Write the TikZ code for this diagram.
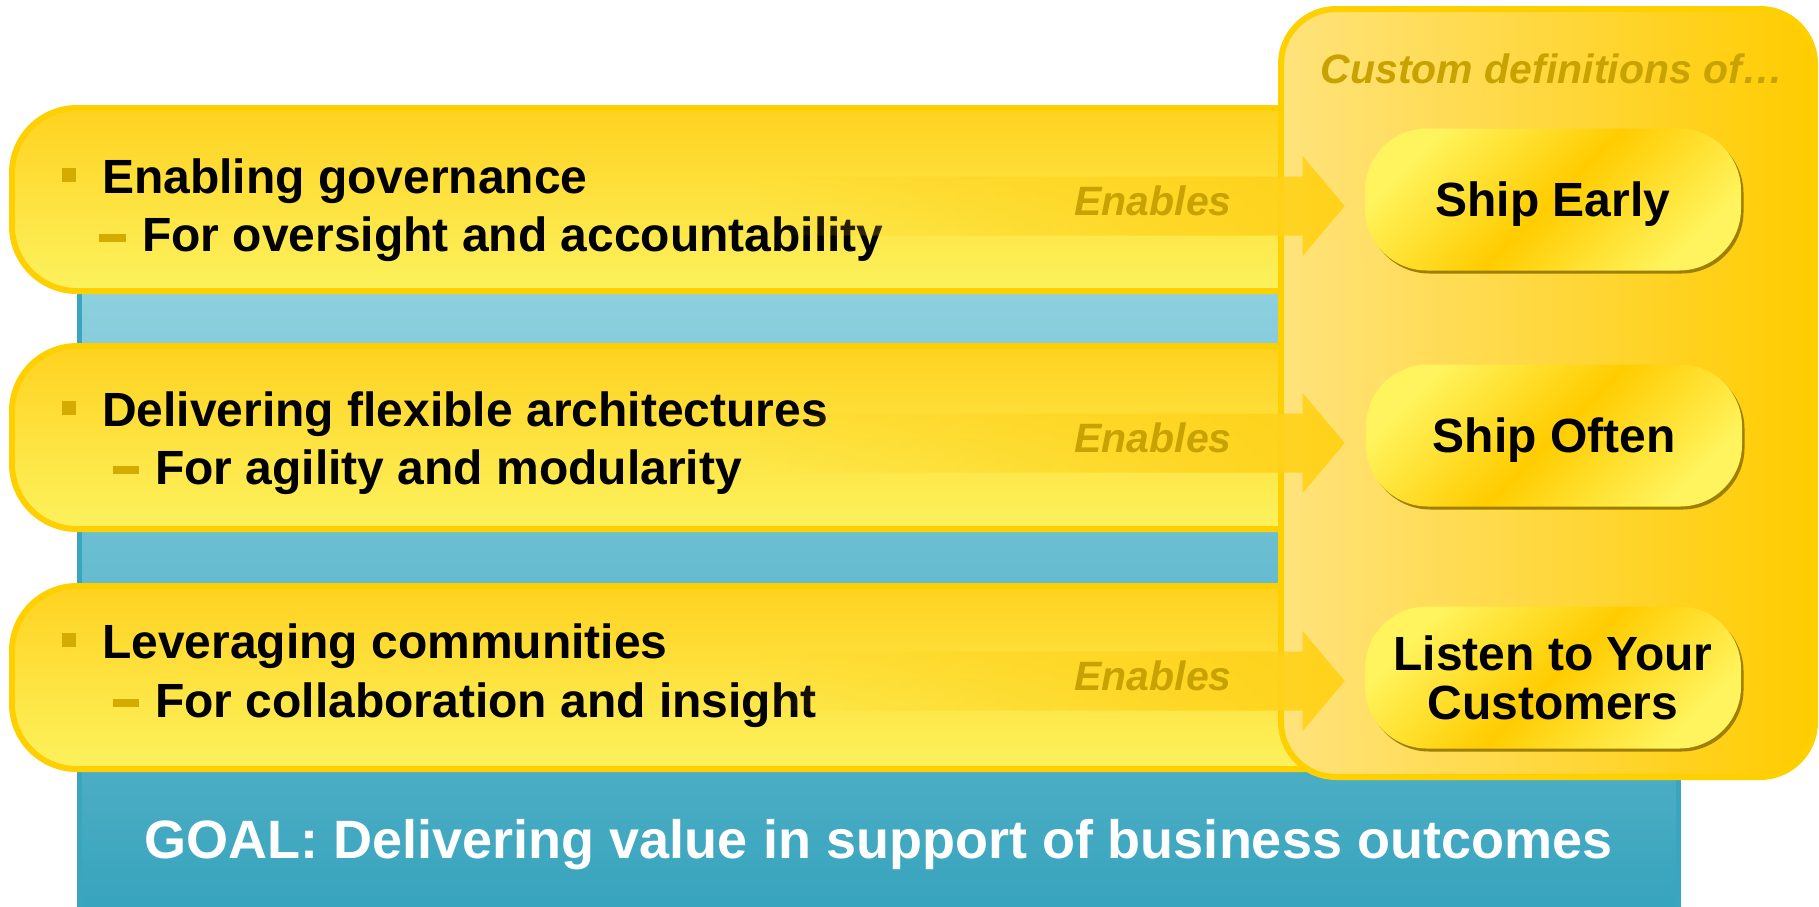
\documentclass[tikz,border=0pt]{standalone}
\usepackage{fontspec}
\setmainfont{Liberation Sans}
\usetikzlibrary{fadings,shadows}

\definecolor{barEdge}{HTML}{FFD000}
\definecolor{barTop}{HTML}{FFD220}
\definecolor{barBot}{HTML}{FCF25E}
\definecolor{tealTop}{HTML}{9AD7E4}
\definecolor{tealBot}{HTML}{37A3BD}
\definecolor{tealEdge}{HTML}{3AA5BF}
\definecolor{panelL}{HTML}{FFE37C}
\definecolor{panelM}{HTML}{FFDC62}
\definecolor{panelR}{HTML}{FFCC00}
\definecolor{boxLight}{HTML}{FFF45E}
\definecolor{boxGold}{HTML}{FFCC00}
\definecolor{boxShadow}{HTML}{9E7F00}
\definecolor{markGold}{HTML}{D4AB00}
\definecolor{enablesText}{HTML}{C8A200}
\definecolor{enablesBand}{HTML}{FFD21A}

\tikzfading[name=enablesfade, left color=transparent!100, middle color=transparent!0, right color=transparent!0]

\begin{document}
\begin{tikzpicture}[x=1pt,y=-1pt,
    bar/.style={draw=barEdge, line width=6pt, rounded corners=65pt, top color=barTop, bottom color=barBot},
    topic/.style={anchor=base west, inner sep=0pt, font=\fontsize{48}{58}\selectfont\bfseries},
    enables/.style={anchor=base, inner sep=0pt, text=enablesText, font=\fontsize{41}{49}\selectfont\bfseries\itshape},
    outcome/.style={rectangle, rounded corners=62pt, minimum width=376pt, minimum height=142pt, inner sep=0pt,
        top color=boxLight, bottom color=boxLight, middle color=boxGold, shading angle=45,
        general shadow={fill=boxShadow, shadow xshift=2.5pt, shadow yshift=-3pt},
        text depth=0pt, align=center, font=\fontsize{48}{49}\selectfont\bfseries}]
\useasboundingbox (0,0) rectangle (1819,906);

\draw[draw=tealEdge, line width=5pt, top color=tealTop, bottom color=tealBot] (79,200) rectangle (1678,915);

\foreach \t/\b in {108/291,346/529,586/769}
    \draw[bar] (12,\t) rectangle (1400,\b);

\foreach \y in {168,401,633}
    \fill[markGold] (62,\y) rectangle (76,\y+14);
\fill[markGold] (99,234) rectangle (126,242);
\fill[markGold] (113,466) rectangle (139,474);
\fill[markGold] (113,699) rectangle (139,707);

\node[topic] (gov) at (102,193) {Enabling governance};
\node[topic] (govsub) at (142,251) {For oversight and accountability};
\node[topic] (arch) at (102,426) {Delivering flexible architectures};
\node[topic] (archsub) at (155,484) {For agility and modularity};
\node[topic] (comm) at (102,658) {Leveraging communities};
\node[topic] (commsub) at (155,717) {For collaboration and insight};

\draw[draw=barEdge, line width=6pt, rounded corners=55pt, left color=panelL, middle color=panelM, right color=panelR] (1281,9) rectangle (1815,777);
\node[enables] (custom) at (1552,83) {Custom definitions of…};

\foreach \y [count=\i] in {206,443,681}
{
    \coordinate (s\i) at (760,\y);
    \coordinate (t\i) at (1345,\y);
    \fill[enablesBand, path fading=enablesfade, fit fading=true] (s\i) ++(0,-29.5) -- ++(543,0) -- ++(0,-20.5) -- (t\i) -- ++(-42,50) -- ++(0,-20.5) -- ++(-543,0) -- cycle;
    \node[enables] (en\i) at (1153,\y+9) {Enables};
}

\node[outcome] (early) at (1553,199.5) {Ship Early};
\node[outcome] (often) at (1554,435.5) {Ship Often};
\node[outcome] (listen) at (1553,677.5) {Listen to Your\\Customers};

\node[anchor=base, inner sep=0pt, text=white, font=\fontsize{54}{60}\selectfont\bfseries] (goal) at (878.5,858) {GOAL: Delivering value in support of business outcomes};

\end{tikzpicture}
\end{document}
